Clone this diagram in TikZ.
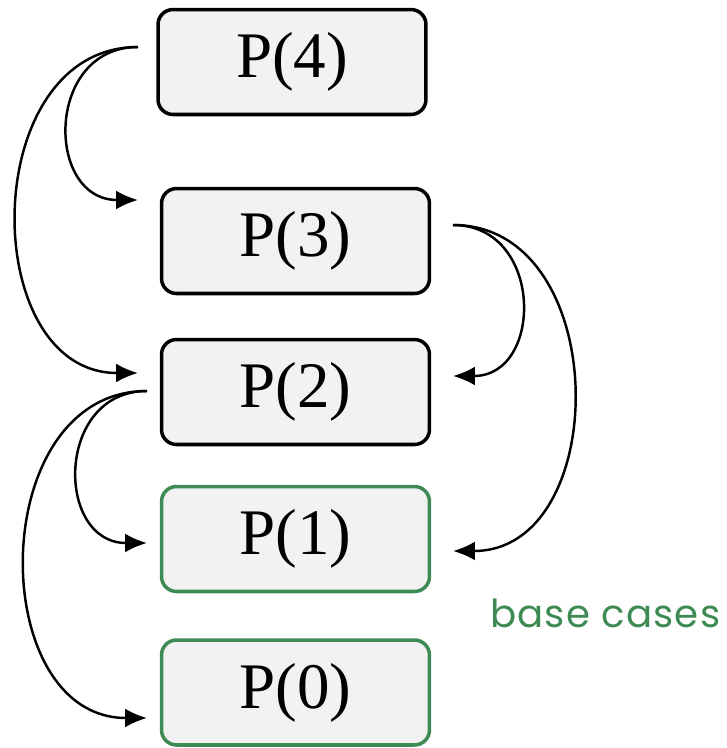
\documentclass[tikz,border=0pt]{standalone}
\usepackage{fontspec}
\setmainfont{Liberation Serif}
\newfontfamily\labelfont[LetterSpace=3]{Poppins}
\usetikzlibrary{arrows.meta}

\definecolor{boxfill}{RGB}{242,242,242}
\definecolor{basegreen}{RGB}{62,138,84}

\tikzset{
  probbox/.style={draw=black, fill=boxfill, line width=2pt, rounded corners=0.3cm,
    minimum width=5.36cm, minimum height=2.1cm, inner sep=0pt,
    font=\fontsize{37}{40}\selectfont},
  basebox/.style={probbox, draw=basegreen},
  callarrow/.style={-{Latex[length=4.4mm,width=3.8mm]}, line width=1.4pt}
}

\begin{document}
\begin{tikzpicture}[x=0.02cm, y=-0.02cm]
    \useasboundingbox (0,0) rectangle (727,748);

    % the subproblems
    \node[probbox] (p4) at (292,62) {P(4)};
    \node[probbox] (p3) at (295.5,241) {P(3)};
    \node[probbox] (p2) at (295.5,392) {P(2)};
    \node[basebox] (p1) at (295.5,539) {P(1)};
    \node[basebox] (p0) at (295.5,692.5) {P(0)};

    \node[anchor=base west, inner sep=0pt, text=basegreen,
          font=\labelfont\fontsize{22}{24}\selectfont] (base) at (490,627) {base cases};

    % ends of the calls
    \coordinate (p4out) at (138,47);
    \coordinate (p3in) at (138,200);
    \coordinate (p2inl) at (138,373);
    \coordinate (p3out) at (453,225);
    \coordinate (p2inr) at (453,376);
    \coordinate (p1inr) at (453,551);
    \coordinate (p2out) at (147,391);
    \coordinate (p1inl) at (147,543);
    \coordinate (p0in) at (147,718);

    % calls of P(4)
    \draw[callarrow] (p4out) .. controls (45,47) and (45,200) .. (p3in);
    \draw[callarrow] (p4out) .. controls (-23,47) and (-23,373) .. (p2inl);

    % calls of P(3)
    \draw[callarrow] (p3out) .. controls (544,225) and (544,376) .. (p2inr);
    \draw[callarrow] (p3out) .. controls (613,225) and (613,551) .. (p1inr);

    % calls of P(2)
    \draw[callarrow] (p2out) .. controls (55,391) and (55,543) .. (p1inl);
    \draw[callarrow] (p2out) .. controls (-15,391) and (-15,718) .. (p0in);
\end{tikzpicture}
\end{document}
